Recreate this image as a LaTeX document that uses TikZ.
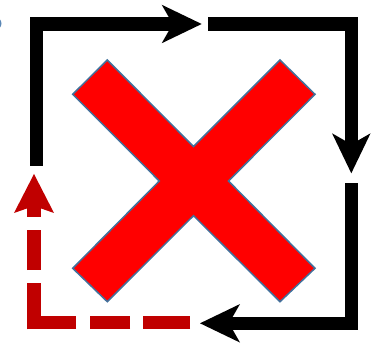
\documentclass[tikz,border=0pt]{standalone}
\usetikzlibrary{arrows.meta}
\definecolor{xred}{HTML}{FF0000}
\definecolor{xedge}{HTML}{41719C}
\definecolor{dred}{HTML}{C00000}
\definecolor{frag}{HTML}{5B87B5}
\tikzset{
  blackline/.style={line width=13.3pt, black, line join=miter, miter limit=10},
  blacktip/.style={-{Stealth[length=40pt,width=38.5pt,inset=11pt,line width=0pt]}},
  redline/.style={line width=13.3pt, dred},
  redtip/.style={-{Stealth[length=39pt,width=40pt,inset=7pt,line width=0pt]}},
  xshape/.style={fill=xred, draw=xedge, line width=1.5pt, line join=miter},
}
\begin{document}
\begin{tikzpicture}[x=1pt,y=-1pt]
\useasboundingbox (0,0) rectangle (376,347);
% fragment at left edge
\fill[frag] (-6.5,23.5) ellipse (8 and 7);
% coordinates
\coordinate (a0) at (36.7,165.7);
\coordinate (a1) at (36.7,24);
\coordinate (a2) at (201.7,24);
\coordinate (b0) at (208.3,24);
\coordinate (b1) at (351.3,24);
\coordinate (b2) at (351.3,173.3);
\coordinate (c0) at (351.3,183.3);
\coordinate (c1) at (351.3,323.3);
\coordinate (c2) at (200,323.3);
\coordinate (r0) at (190,322.8);
\coordinate (r1) at (27.3,322.8);
\coordinate (v0) at (34,329.4);
\coordinate (v1) at (34,174);
% X shape
\draw[xshape] (107.3,60) -- (193.5,146.5) -- (280,60) -- (315,94.3) -- (228.5,181)
  -- (315,268.3) -- (280,301.7) -- (193.5,215.7) -- (107.3,301.7) -- (72.7,268.3)
  -- (159.3,181) -- (72.7,94.3) -- cycle;
% black loop
\draw[blackline, blacktip] (a0) -- (a1) -- (a2);
\draw[blackline, blacktip] (b0) -- (b1) -- (b2);
\draw[blackline, blacktip] (c0) -- (c1) -- (c2);
% red dashed return
\draw[redline, dash pattern=on 46.7pt off 13.3pt on 40pt off 14pt on 60pt] (r0) -- (r1);
\draw[redline, redtip, dash pattern=on 46pt off 13.3pt on 40pt off 13.3pt on 80pt] (v0) -- (v1);
\end{tikzpicture}
\end{document}
